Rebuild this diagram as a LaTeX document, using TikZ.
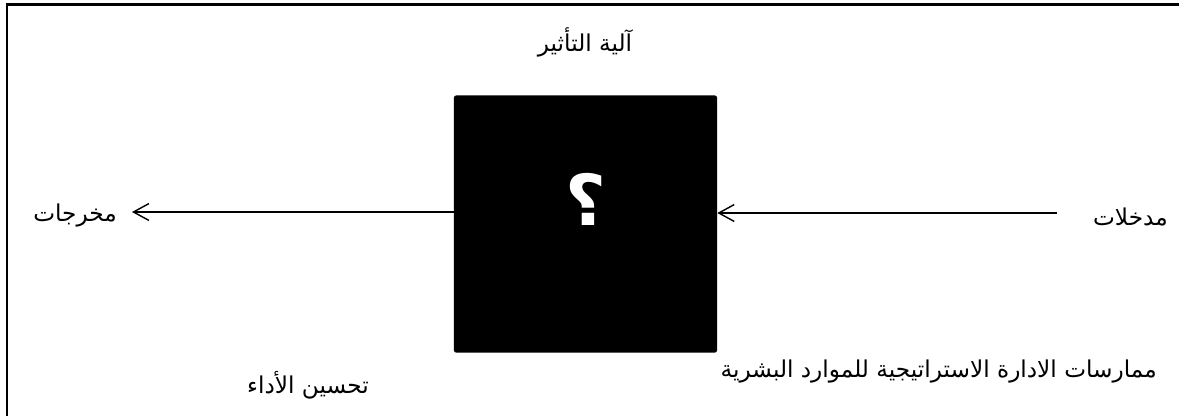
\documentclass[tikz,border=0pt]{standalone}
\usepackage{fontspec}
\newfontfamily\arabicfont[Script=Arabic]{DejaVu Sans}
\TeXXeTstate=1
\usetikzlibrary{arrows.meta}
\tikzset{pin/.style={line width=1pt, -{Straight Barb[length=11pt, width=12pt]}},
  lbl/.style={font=\arabicfont\fontsize{16.5}{19}\selectfont, inner sep=0pt},
  mech/.style={fill=black, rounded corners=1.5pt, minimum width=6.575cm, minimum height=6.425cm}}

\begin{document}
\begin{tikzpicture}[x=0.025cm, y=-0.025cm]
  \useasboundingbox (0,0) rectangle (1179,416);
  % frame (top and left only)
  \draw[line width=2pt] (7,416) -- (7,4.3) -- (1179,4.3);
  % the black box
  \node[mech] (box) at (585.5,224) {};
  \node[lbl, text=white, font=\arabicfont\bfseries\fontsize{50}{55}\selectfont] (q) at (586,199) {\beginR ؟\endR};
  \node[lbl] (title) at (585,42) {\beginR آلية التأثير\endR};
  % in and out
  \coordinate (in) at (1057,213);
  \coordinate (out) at (132,212);
  \node[lbl, anchor=east] (inlbl) at (1168,217) {\beginR مدخلات\endR};
  \node[lbl, anchor=east] (outlbl) at (117,216) {\beginR مخرجات\endR};
  \draw[pin] (in) -- (box.east |- in);
  \draw[pin] (box.west |- out) -- (out);
  % captions below
  \node[lbl, anchor=east] (hrm) at (1157,372) {\beginR ممارسات الادارة الاستراتيجية للموارد البشرية\endR};
  \node[lbl] (perf) at (308,385) {\beginR تحسين الأداء\endR};
\end{tikzpicture}
\end{document}
